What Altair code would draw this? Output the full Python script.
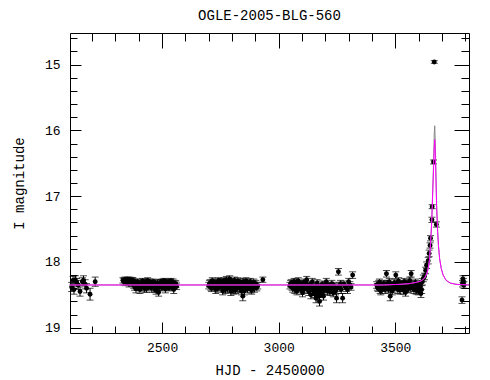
import altair as alt
import pandas as pd

# ---------------- data ----------------
hjd1 = [2112, 2118, 2122, 2128, 2133, 2140, 2148, 2158, 2163, 2170, 2176, 2191, 2213]
mag1 = [18.38, 18.28, 18.42, 18.27, 18.31, 18.35, 18.45, 18.30, 18.28, 18.34, 18.40, 18.49, 18.30]
err1 = [0.07, 0.06, 0.07, 0.06, 0.06, 0.07, 0.07, 0.06, 0.07, 0.07, 0.07, 0.09, 0.07]

hjd2 = [2332, 2340, 2348, 2355, 2362, 2368, 2375, 2382, 2388, 2395,
        2400, 2405, 2410, 2416, 2422, 2428, 2433, 2438, 2444, 2450,
        2456, 2462, 2468, 2474, 2480, 2485, 2490, 2496, 2502, 2508,
        2514, 2520, 2526, 2532, 2538, 2544, 2550, 2556, 2562,
        2336, 2344, 2352, 2358, 2372, 2378, 2385, 2392, 2398, 2408,
        2413, 2419, 2425, 2431, 2441, 2447, 2453, 2459, 2465, 2471,
        2477, 2483, 2493, 2499, 2505, 2511, 2517, 2523, 2529, 2535,
        2541, 2547, 2553, 2559]
mag2 = [18.28, 18.27, 18.29, 18.30, 18.27, 18.32, 18.28, 18.38, 18.41, 18.30,
        18.36, 18.42, 18.33, 18.29, 18.38, 18.31, 18.40, 18.28, 18.36, 18.33,
        18.40, 18.30, 18.35, 18.43, 18.32, 18.46, 18.38, 18.30, 18.36, 18.29,
        18.41, 18.34, 18.31, 18.38, 18.29, 18.35, 18.42, 18.33, 18.37,
        18.30, 18.31, 18.27, 18.33, 18.29, 18.35, 18.30, 18.37, 18.34, 18.39,
        18.36, 18.32, 18.40, 18.35, 18.38, 18.30, 18.37, 18.34, 18.40, 18.33,
        18.38, 18.35, 18.32, 18.39, 18.33, 18.37, 18.30, 18.36, 18.39, 18.32,
        18.37, 18.31, 18.36, 18.34]
err2 = [0.04, 0.04, 0.05, 0.04, 0.04, 0.05, 0.04, 0.05, 0.06, 0.04,
        0.05, 0.06, 0.05, 0.04, 0.05, 0.05, 0.06, 0.04, 0.05, 0.05,
        0.06, 0.04, 0.05, 0.06, 0.05, 0.06, 0.05, 0.04, 0.05, 0.04,
        0.06, 0.05, 0.05, 0.05, 0.04, 0.05, 0.06, 0.05, 0.05,
        0.05, 0.05, 0.04, 0.05, 0.05, 0.05, 0.04, 0.05, 0.05, 0.05,
        0.05, 0.05, 0.06, 0.05, 0.05, 0.04, 0.05, 0.05, 0.06, 0.05,
        0.05, 0.05, 0.05, 0.05, 0.05, 0.05, 0.04, 0.05, 0.05, 0.05,
        0.05, 0.05, 0.05, 0.05]

hjd3 = [2700, 2706, 2712, 2718, 2724, 2730, 2736, 2742, 2748, 2754,
        2760, 2765, 2770, 2775, 2780, 2785, 2790, 2795, 2800, 2805,
        2810, 2815, 2820, 2825, 2830, 2835, 2840, 2846, 2850, 2855,
        2860, 2866, 2872, 2878, 2884, 2890, 2896, 2902, 2910, 2932,
        2703, 2709, 2715, 2721, 2727, 2733, 2739, 2745, 2751, 2757,
        2762, 2768, 2772, 2778, 2782, 2788, 2792, 2798, 2802, 2808,
        2812, 2818, 2822, 2828, 2832, 2838, 2843, 2848, 2853, 2858,
        2863, 2869, 2875, 2881, 2887, 2893, 2899, 2906]
mag3 = [18.36, 18.32, 18.40, 18.30, 18.35, 18.42, 18.33, 18.28, 18.38, 18.31,
        18.44, 18.29, 18.36, 18.27, 18.40, 18.33, 18.26, 18.45, 18.30, 18.37,
        18.28, 18.42, 18.34, 18.29, 18.39, 18.31, 18.44, 18.52, 18.33, 18.38,
        18.29, 18.41, 18.35, 18.30, 18.43, 18.37, 18.40, 18.33, 18.36, 18.27,
        18.33, 18.38, 18.29, 18.36, 18.31, 18.37, 18.40, 18.34, 18.30, 18.39,
        18.35, 18.32, 18.42, 18.38, 18.30, 18.36, 18.40, 18.33, 18.38, 18.43,
        18.35, 18.31, 18.40, 18.36, 18.33, 18.41, 18.37, 18.30, 18.44, 18.35,
        18.39, 18.32, 18.38, 18.41, 18.34, 18.31, 18.36, 18.39]
err3 = [0.05, 0.05, 0.05, 0.04, 0.05, 0.06, 0.05, 0.04, 0.05, 0.05,
        0.06, 0.05, 0.05, 0.05, 0.06, 0.05, 0.05, 0.06, 0.05, 0.05,
        0.05, 0.06, 0.05, 0.05, 0.06, 0.05, 0.06, 0.07, 0.05, 0.05,
        0.05, 0.06, 0.05, 0.05, 0.06, 0.05, 0.06, 0.05, 0.05, 0.04,
        0.05, 0.05, 0.05, 0.05, 0.05, 0.05, 0.06, 0.05, 0.05, 0.05,
        0.05, 0.05, 0.06, 0.05, 0.05, 0.05, 0.06, 0.05, 0.05, 0.06,
        0.05, 0.05, 0.06, 0.05, 0.05, 0.06, 0.05, 0.05, 0.06, 0.05,
        0.05, 0.05, 0.05, 0.06, 0.05, 0.05, 0.05, 0.05]

hjd4 = [3048, 3054, 3060, 3066, 3072, 3078, 3084, 3090, 3096, 3102,
        3108, 3114, 3120, 3126, 3132, 3138, 3144, 3150, 3156, 3160,
        3165, 3170, 3175, 3180, 3186, 3192, 3198, 3204, 3210, 3216,
        3222, 3228, 3234, 3240, 3248, 3256, 3262, 3268, 3274, 3280,
        3290, 3300, 3310, 3317,
        3051, 3057, 3063, 3069, 3075, 3081, 3087, 3093, 3099, 3105,
        3111, 3117, 3123, 3129, 3135, 3141, 3147, 3153, 3158, 3163,
        3168, 3173, 3178, 3183, 3189, 3195, 3201, 3207, 3213, 3219,
        3225, 3231, 3237, 3244, 3252, 3265, 3285, 3295, 3305]
mag4 = [18.36, 18.32, 18.40, 18.30, 18.35, 18.44, 18.29, 18.38, 18.33, 18.47,
        18.31, 18.39, 18.27, 18.42, 18.35, 18.50, 18.30, 18.45, 18.37, 18.55,
        18.32, 18.48, 18.60, 18.40, 18.34, 18.52, 18.38, 18.30, 18.44, 18.36,
        18.41, 18.33, 18.47, 18.38, 18.55, 18.15, 18.36, 18.42, 18.55, 18.34,
        18.40, 18.30, 18.38, 18.20,
        18.33, 18.38, 18.35, 18.42, 18.31, 18.37, 18.40, 18.34, 18.43, 18.36,
        18.41, 18.33, 18.38, 18.45, 18.40, 18.36, 18.42, 18.48, 18.40, 18.45,
        18.38, 18.52, 18.44, 18.47, 18.39, 18.43, 18.35, 18.41, 18.37, 18.45,
        18.38, 18.42, 18.36, 18.44, 18.40, 18.33, 18.37, 18.42, 18.35]
err4 = [0.05, 0.05, 0.06, 0.05, 0.05, 0.06, 0.05, 0.05, 0.05, 0.06,
        0.05, 0.05, 0.05, 0.06, 0.05, 0.06, 0.05, 0.06, 0.05, 0.07,
        0.05, 0.06, 0.07, 0.05, 0.05, 0.06, 0.05, 0.05, 0.06, 0.05,
        0.06, 0.05, 0.06, 0.05, 0.07, 0.05, 0.05, 0.06, 0.07, 0.05,
        0.05, 0.05, 0.05, 0.05,
        0.05, 0.05, 0.05, 0.06, 0.05, 0.05, 0.06, 0.05, 0.06, 0.05,
        0.06, 0.05, 0.05, 0.06, 0.05, 0.05, 0.06, 0.06, 0.05, 0.06,
        0.05, 0.07, 0.06, 0.06, 0.05, 0.06, 0.05, 0.06, 0.05, 0.06,
        0.05, 0.06, 0.05, 0.06, 0.05, 0.05, 0.05, 0.06, 0.05]

hjd5 = [3420, 3426, 3432, 3438, 3444, 3450, 3456, 3462, 3468, 3474,
        3478, 3484, 3490, 3496, 3502, 3508, 3514, 3520, 3526, 3532,
        3538, 3544, 3550, 3556, 3562, 3568, 3574, 3580, 3586, 3592,
        3598, 3604, 3610, 3616, 3620, 3625, 3630, 3634,
        3423, 3429, 3435, 3441, 3447, 3453, 3459, 3465, 3471, 3481,
        3487, 3493, 3499, 3505, 3511, 3517, 3523, 3529, 3535, 3541,
        3547, 3553, 3559, 3565, 3571, 3577, 3583, 3589, 3595, 3601,
        3607, 3613]
mag5 = [18.35, 18.40, 18.31, 18.44, 18.36, 18.33, 18.42, 18.18, 18.38, 18.30,
        18.52, 18.35, 18.41, 18.32, 18.20, 18.37, 18.29, 18.43, 18.33, 18.39,
        18.30, 18.46, 18.34, 18.40, 18.28, 18.18, 18.36, 18.42, 18.31, 18.38,
        18.44, 18.33, 18.48, 18.30, 18.25, 18.22, 18.13, 18.05,
        18.38, 18.33, 18.42, 18.36, 18.40, 18.35, 18.38, 18.33, 18.41, 18.37,
        18.44, 18.36, 18.39, 18.33, 18.42, 18.36, 18.40, 18.35, 18.43, 18.38,
        18.32, 18.41, 18.36, 18.39, 18.33, 18.40, 18.37, 18.43, 18.35, 18.41,
        18.37, 18.42]
err5 = [0.05, 0.05, 0.05, 0.06, 0.05, 0.05, 0.06, 0.05, 0.05, 0.05,
        0.07, 0.05, 0.06, 0.05, 0.05, 0.05, 0.05, 0.06, 0.05, 0.05,
        0.05, 0.06, 0.05, 0.06, 0.05, 0.05, 0.05, 0.06, 0.05, 0.05,
        0.06, 0.05, 0.06, 0.05, 0.05, 0.05, 0.05, 0.05,
        0.05, 0.05, 0.06, 0.05, 0.05, 0.05, 0.05, 0.05, 0.06, 0.05,
        0.06, 0.05, 0.05, 0.05, 0.06, 0.05, 0.05, 0.05, 0.06, 0.05,
        0.05, 0.06, 0.05, 0.05, 0.05, 0.05, 0.05, 0.06, 0.05, 0.06,
        0.05, 0.06]

hjd6 = [3641, 3645, 3649, 3651, 3657, 3658, 3664, 3667, 3676]
mag6 = [17.98, 17.87, 17.75, 17.64, 17.36, 17.16, 16.48, 14.96, 17.43]
err6 = [0.05, 0.05, 0.04, 0.04, 0.04, 0.03, 0.03, 0.02, 0.04]

hjd7 = [3786, 3788, 3790, 3792, 3794]
mag7 = [18.58, 18.33, 18.26, 18.30, 18.35]
err7 = [0.05, 0.05, 0.05, 0.05, 0.05]

# model light curves
model_t = [2105, 3450, 3520, 3560, 3590, 3610, 3625, 3635, 3642, 3647,
           3651, 3656, 3660, 3664, 3667, 3669, 3671, 3674, 3677, 3681,
           3685, 3690, 3697, 3705, 3718, 3735, 3760, 3816]
model_pink = [18.35, 18.35, 18.34, 18.33, 18.31, 18.29, 18.25, 18.18, 18.08, 17.95,
              17.72, 17.40, 17.00, 16.60, 16.25, 16.14, 16.30, 16.70, 17.15, 17.50,
              17.75, 17.95, 18.10, 18.20, 18.28, 18.32, 18.34, 18.35]
model_grey = [18.35, 18.35, 18.34, 18.33, 18.31, 18.29, 18.25, 18.18, 18.08, 17.95,
              17.72, 17.40, 16.95, 16.50, 16.05, 15.93, 16.15, 16.60, 17.10, 17.50,
              17.75, 17.95, 18.10, 18.20, 18.28, 18.32, 18.34, 18.35]

x_major = [2500, 3000, 3500]
x_minor = [2200, 2300, 2400, 2500, 2600, 2700, 2800, 2900, 3000, 3100,
           3200, 3300, 3400, 3500, 3600, 3700, 3800]
y_major = [15, 16, 17, 18, 19]
y_minor = [14.6, 14.8, 15.0, 15.2, 15.4, 15.6, 15.8, 16.0, 16.2, 16.4, 16.6, 16.8,
           17.0, 17.2, 17.4, 17.6, 17.8, 18.0, 18.2, 18.4, 18.6, 18.8, 19.0]

# ---------------- build tables ----------------
hjd = hjd1 + hjd2 + hjd3 + hjd4 + hjd5 + hjd6 + hjd7
mag = mag1 + mag2 + mag3 + mag4 + mag5 + mag6 + mag7
err = err1 + err2 + err3 + err4 + err5 + err6 + err7
pts = pd.DataFrame({"hjd": hjd, "mag": mag, "err": err})
pts["lo"] = pts["mag"] - pts["err"]
pts["hi"] = pts["mag"] + pts["err"]

model = pd.DataFrame({"t": model_t, "pink": model_pink, "grey": model_grey})

FONT = "Liberation Mono"
xs = alt.Scale(domain=[2105, 3816], nice=False, zero=False)
ys = alt.Scale(domain=[14.52, 19.08], reverse=True, nice=False, zero=False)

main_x_axis = alt.Axis(orient="bottom", values=x_major, format="d", tickSize=0,
                       labelPadding=8, domain=False, grid=False,
                       title="HJD - 2450000", titlePadding=9, labelFlush=False)
main_y_axis = alt.Axis(orient="left", values=y_major, format="d", tickSize=0,
                       labelPadding=10, domain=False, grid=False,
                       title="I magnitude", titlePadding=18, labelFlush=False)

rules = alt.Chart(pts).mark_rule(color="black", strokeWidth=1).encode(
    x=alt.X("hjd:Q", scale=xs, axis=main_x_axis),
    y=alt.Y("lo:Q", scale=ys, axis=main_y_axis),
    y2="hi:Q",
)
cap_lo = alt.Chart(pts).mark_tick(color="black", orient="horizontal", size=7, thickness=1).encode(
    x=alt.X("hjd:Q", scale=xs, axis=None),
    y=alt.Y("lo:Q", scale=ys, axis=None),
)
cap_hi = alt.Chart(pts).mark_tick(color="black", orient="horizontal", size=7, thickness=1).encode(
    x=alt.X("hjd:Q", scale=xs, axis=None),
    y=alt.Y("hi:Q", scale=ys, axis=None),
)
dots = alt.Chart(pts).mark_circle(color="black", size=24, opacity=1).encode(
    x=alt.X("hjd:Q", scale=xs, axis=None),
    y=alt.Y("mag:Q", scale=ys, axis=None),
)
grey_line = alt.Chart(model).mark_line(color="#888888", strokeWidth=1).encode(
    x=alt.X("t:Q", scale=xs, axis=None),
    y=alt.Y("grey:Q", scale=ys, axis=None),
)
pink_line = alt.Chart(model).mark_line(color="#ff00ff", strokeWidth=1).encode(
    x=alt.X("t:Q", scale=xs, axis=None),
    y=alt.Y("pink:Q", scale=ys, axis=None),
)


def tick_layer(orient, values, size):
    ax = alt.Axis(orient=orient, values=values, tickSize=size, offset=-size,
                  labels=False, domain=False, grid=False, title=None,
                  tickColor="black", tickWidth=1, minExtent=0)
    if orient in ("bottom", "top"):
        enc = dict(x=alt.X("t:Q", scale=xs, axis=ax),
                   y=alt.Y("pink:Q", scale=ys, axis=None))
    else:
        enc = dict(x=alt.X("t:Q", scale=xs, axis=None),
                   y=alt.Y("pink:Q", scale=ys, axis=ax))
    return alt.Chart(model).mark_point(opacity=0).encode(**enc)


tick_layers = [
    tick_layer("bottom", x_major, 11),
    tick_layer("bottom", x_minor, 7),
    tick_layer("top", x_major, 15),
    tick_layer("top", x_minor, 8),
    tick_layer("left", y_major, 11),
    tick_layer("left", y_minor, 7),
    tick_layer("right", y_major, 15),
    tick_layer("right", y_minor, 8),
]

chart = alt.layer(
    rules, cap_lo, cap_hi, dots, grey_line, pink_line, *tick_layers
).resolve_axis(
    x="independent", y="independent"
).properties(
    width=399, height=300,
    autosize=alt.AutoSizeParams(type="none"),
    padding={"left": 62, "top": 25, "right": 10, "bottom": 55},
    title=alt.TitleParams("OGLE-2005-BLG-560", font=FONT, fontSize=14,
                          fontWeight="normal", color="black", anchor="middle",
                          offset=10),
).configure_axis(
    labelFont=FONT, labelFontSize=13, labelColor="black",
    titleFont=FONT, titleFontSize=14, titleFontWeight="normal", titleColor="black",
    tickColor="black",
).configure_view(
    stroke="black", strokeWidth=1
)

chart.save("out.html", embed_options={"renderer": "svg", "actions": False})
